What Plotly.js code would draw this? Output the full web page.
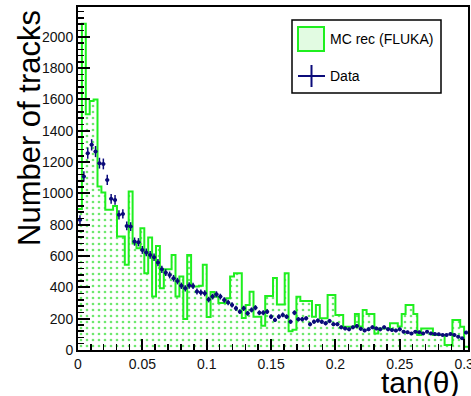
<!DOCTYPE html>
<html>
<head>
<meta charset="utf-8">
<script src="https://cdn.plot.ly/plotly-3.0.1.min.js"></script>
<style>
  html, body { margin: 0; padding: 0; background: #ffffff; }
  #chart { width: 471px; height: 396px; }
</style>
</head>
<body>
<div id="chart"></div>
<script>
// ---- Data ----
const binWidth = 0.00303;   // tan(theta) bin width
const xTickLabels = ["0", "0.05", "0.1", "0.15", "0.2", "0.25", "0.3"];
const yTickLabels = ["0", "200", "400", "600", "800", "1000", "1200", "1400", "1600", "1800", "2000"];
const seriesNames = ["MC rec (FLUKA)", "Data"];

// MC rec (FLUKA) histogram contents, 100 bins
const mcCounts = [
  900, 2083, 1506, 1590, 1600, 1044, 1005, 895, 895, 920,
  724, 724, 545, 1012, 680, 650, 777, 490, 718, 341,
  664, 394, 515, 515, 607, 341, 470, 198, 607, 405,
  405, 410, 545, 210, 370, 340, 300, 300, 330, 470,
  490, 490, 205, 287, 372, 213, 213, 155, 345, 345,
  460, 290, 290, 490, 120, 130, 340, 313, 313, 313,
  213, 288, 202, 202, 351, 351, 224, 224, 149, 149,
  149, 230, 150, 256, 230, 230, 106, 138, 138, 138,
  170, 170, 150, 230, 288, 288, 230, 96, 138, 138,
  138, 96, 96, 96, 32, 32, 192, 192, 149, 21
];

// Data histogram contents, 100 bins
const dataCounts = [
  831, 1108, 1257, 1310, 1267, 1193, 1188, 1086, 965, 958,
  863, 869, 792, 788, 692, 688, 639, 623, 607, 592,
  558, 515, 494, 479, 458, 440, 410, 394, 412, 409,
  373, 367, 362, 322, 341, 356, 341, 319, 303, 288,
  266, 245, 266, 234, 256, 270, 238, 238, 245, 213,
  192, 213, 224, 213, 181, 238, 196, 196, 202, 164,
  181, 188, 181, 170, 185, 165, 165, 145, 138, 132,
  145, 153, 135, 125, 132, 145, 138, 132, 145, 132,
  128, 124, 132, 117, 113, 105, 117, 113, 106, 117,
  106, 102, 100, 96, 96, 102, 96, 85, 75, 111
];

// ---- Build traces from the arrays ----
const nBins = mcCounts.length;
const edgesX = [], edgesY = [];
for (let i = 0; i < nBins; i++) { edgesX.push(i * binWidth); edgesY.push(mcCounts[i]); }
edgesX.push(nBins * binWidth); edgesY.push(mcCounts[nBins - 1]);
const centersX = dataCounts.map((_, i) => (i + 0.5) * binWidth);

const GREEN = '#1fef1f';
const NAVY = '#0b0b7a';
const FONT = 'Liberation Sans, Arial, sans-serif';

const mcTrace = {
  type: 'scatter', mode: 'lines', name: seriesNames[0],
  x: edgesX, y: edgesY,
  line: { shape: 'hv', color: GREEN, width: 2 },
  fill: 'tozeroy',
  fillcolor: 'rgba(255,255,255,0)',
  fillpattern: { shape: '.', fgcolor: '#6ee86e', bgcolor: 'rgba(255,255,255,0)', size: 6, solidity: 0.16 },
  showlegend: false, hoverinfo: 'skip'
};

const dataTrace = {
  type: 'scatter', mode: 'markers', name: seriesNames[1],
  x: centersX, y: dataCounts,
  marker: { color: NAVY, size: 4 },
  error_y: { type: 'sqrt', color: NAVY, thickness: 1.5, width: 0 },
  error_x: { type: 'constant', value: binWidth / 2, color: NAVY, thickness: 1.5, width: 0 },
  showlegend: false, hoverinfo: 'skip'
};

// ---- Layout ----
const W = 471, H = 396;
const M = { l: 78, r: 3, t: 7, b: 46 };
const pw = W - M.l - M.r, ph = H - M.t - M.b;
const px = v => (v - M.l) / pw;          // pixel x -> paper
const py = v => (H - M.b - v) / ph;      // pixel y -> paper

const xTickVals = xTickLabels.map(Number);
const yTickVals = yTickLabels.map(Number);

const layout = {
  width: W, height: H,
  margin: M,
  paper_bgcolor: '#ffffff', plot_bgcolor: '#ffffff',
  font: { family: FONT, color: '#111' },
  showlegend: false,
  xaxis: {
    range: [0, nBins * binWidth],
    tickmode: 'array', tickvals: xTickVals, ticktext: xTickLabels,
    ticks: 'inside', ticklen: 11, tickwidth: 2, tickcolor: '#000',
    ticklabeloverflow: 'allow',
    minor: { dtick: 0.01, ticks: 'inside', ticklen: 6, tickwidth: 1.5, tickcolor: '#000', showgrid: false },
    showline: true, linewidth: 2, linecolor: '#000', mirror: true,
    showgrid: false, zeroline: false,
    tickfont: { family: FONT, size: 14, color: '#111' }
  },
  yaxis: {
    range: [0, 2190],
    tickmode: 'array', tickvals: yTickVals, ticktext: yTickLabels,
    ticks: 'inside', ticklen: 12, tickwidth: 2, tickcolor: '#000',
    minor: { dtick: 40, ticks: 'inside', ticklen: 6, tickwidth: 1.5, tickcolor: '#000', showgrid: false },
    showline: true, linewidth: 2, linecolor: '#000', mirror: true,
    showgrid: false, zeroline: false,
    tickfont: { family: FONT, size: 14, color: '#111' }
  },
  shapes: [
    // legend box
    { type: 'rect', xref: 'paper', yref: 'paper', x0: px(292), x1: px(441), y0: py(93), y1: py(20),
      line: { color: '#000', width: 1.5 }, fillcolor: '#ffffff', layer: 'above' },
    // MC legend patch
    { type: 'rect', xref: 'paper', yref: 'paper', x0: px(298), x1: px(324), y0: py(51), y1: py(27),
      line: { color: GREEN, width: 2 }, fillcolor: 'rgba(140,240,140,0.25)', layer: 'above' },
    // Data legend cross
    { type: 'line', xref: 'paper', yref: 'paper', x0: px(298), x1: px(325), y0: py(76), y1: py(76),
      line: { color: NAVY, width: 2 }, layer: 'above' },
    { type: 'line', xref: 'paper', yref: 'paper', x0: px(311.5), x1: px(311.5), y0: py(65), y1: py(87),
      line: { color: NAVY, width: 2 }, layer: 'above' }
  ],
  annotations: [
    { text: seriesNames[0], xref: 'paper', yref: 'paper', x: px(328), y: py(39),
      xanchor: 'left', yanchor: 'middle', showarrow: false,
      font: { family: FONT, size: 14, color: '#000' } },
    { text: seriesNames[1], xref: 'paper', yref: 'paper', x: px(328), y: py(76),
      xanchor: 'left', yanchor: 'middle', showarrow: false,
      font: { family: FONT, size: 14, color: '#000' } },
    // axis titles (ROOT style: aligned to the axis end)
    { text: 'Number of tracks', xref: 'paper', yref: 'paper', x: px(29), y: py(8),
      xanchor: 'center', yanchor: 'top', textangle: -90, showarrow: false,
      font: { family: FONT, size: 31, color: '#000' } },
    { text: 'tan(θ)', xref: 'paper', yref: 'paper', x: px(460), y: py(382),
      xanchor: 'right', yanchor: 'middle', showarrow: false, borderpad: 0,
      font: { family: FONT, size: 30, color: '#000' } }
  ]
};

Plotly.newPlot('chart', [mcTrace, dataTrace], layout, { staticPlot: true, displayModeBar: false });
</script>
</body>
</html>
